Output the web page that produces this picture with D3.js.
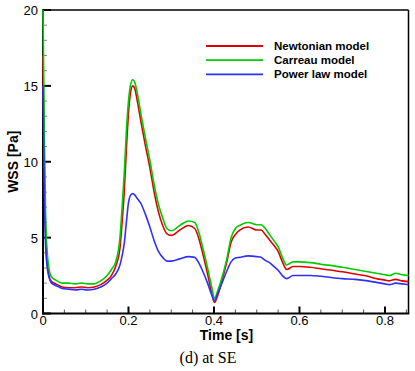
<!DOCTYPE html>
<html>
<head>
<meta charset="utf-8">
<script src="https://cdn.jsdelivr.net/npm/d3@7"></script>
<style>
  body { margin: 0; background: #fff; }
  svg { display: block; }
  .tick-label { font-family: "Liberation Sans", Arial, sans-serif; font-size: 13px; fill: #000; }
  .axis-title { font-family: "Liberation Sans", Arial, sans-serif; font-size: 14px; font-weight: bold; fill: #000; }
  .legend-text { font-family: "Liberation Sans", Arial, sans-serif; font-size: 11.5px; font-weight: bold; fill: #000; }
  .caption { font-family: "Liberation Serif", "Times New Roman", serif; font-size: 16px; fill: #000; }
</style>
</head>
<body>
<div id="chart"></div>
<script>
// time samples [s]
const time = [0, 0.003, 0.006, 0.01, 0.015, 0.02, 0.03, 0.045, 0.06, 0.075, 0.09, 0.105, 0.12, 0.135, 0.15, 0.16, 0.17,
    0.18, 0.185, 0.19, 0.195, 0.2, 0.205, 0.21, 0.215, 0.22, 0.23, 0.24, 0.25, 0.26, 0.27, 0.28, 0.29, 0.3, 0.32, 0.34,
    0.355, 0.365, 0.375, 0.385, 0.395, 0.401, 0.41, 0.42, 0.43, 0.44, 0.45, 0.46, 0.48, 0.5, 0.51, 0.52, 0.53, 0.54,
    0.55, 0.56, 0.57, 0.585, 0.6, 0.625, 0.65, 0.7, 0.73, 0.76, 0.78, 0.8, 0.81, 0.825, 0.84, 0.855];

const newtonian = [17, 10, 5.5, 3.5, 2.4, 2.1, 1.95, 1.75, 1.7, 1.7, 1.75, 1.7, 1.75, 1.9, 2.2, 2.5, 3.1,
    4.3, 6.0, 8.0, 10.8, 13.2, 14.6, 15.0, 14.8, 14.1, 12.5, 11.0, 9.6, 8.0, 6.7, 5.8, 5.25, 5.15, 5.5, 5.8,
    5.6, 4.9, 3.8, 2.6, 1.3, 0.72, 1.3, 2.3, 3.4, 4.7, 5.2, 5.5, 5.7, 5.5, 5.5, 5.2, 4.85, 4.5,
    4.1, 3.4, 2.9, 3.1, 3.1, 3.05, 2.95, 2.75, 2.6, 2.45, 2.3, 2.2, 2.15, 2.25, 2.15, 2.1];

const carreau = [20, 12, 6.5, 4.0, 2.8, 2.4, 2.2, 2.0, 2.0, 1.95, 2.0, 1.95, 1.95, 2.15, 2.5, 2.9, 3.4,
    5.0, 7.0, 9.2, 12.0, 14.0, 15.1, 15.4, 15.2, 14.6, 13.0, 11.5, 10.1, 8.5, 7.2, 6.3, 5.6, 5.45, 5.8, 6.1,
    6.0, 5.3, 4.2, 3.0, 1.7, 1.0, 1.6, 2.5, 3.6, 5.0, 5.6, 5.8, 6.0, 5.85, 5.85, 5.6, 5.2, 4.8,
    4.4, 3.7, 3.2, 3.4, 3.4, 3.35, 3.25, 3.05, 2.9, 2.75, 2.65, 2.55, 2.5, 2.65, 2.55, 2.5];

const powerLaw = [15, 8, 4.5, 3.0, 2.3, 2.0, 1.85, 1.65, 1.6, 1.55, 1.6, 1.55, 1.6, 1.75, 2.0, 2.3, 2.6,
    3.2, 3.8, 4.6, 6.0, 7.3, 7.8, 7.9, 7.8, 7.6, 7.2, 6.5, 5.7, 4.8, 4.1, 3.7, 3.45, 3.45, 3.6, 3.75,
    3.7, 3.3, 2.7, 2.0, 1.2, 0.85, 1.4, 2.1, 2.8, 3.4, 3.65, 3.7, 3.8, 3.75, 3.7, 3.5, 3.35, 3.1,
    2.85, 2.5, 2.3, 2.5, 2.5, 2.5, 2.45, 2.3, 2.25, 2.15, 2.05, 1.95, 1.9, 2.0, 1.95, 1.9];

const seriesNames = ["Newtonian model", "Carreau model", "Power law model"];
const seriesColors = ["#e00000", "#00cc00", "#2f2fff"];
const seriesValues = [newtonian, carreau, powerLaw];

const xTicks = [0, 0.2, 0.4, 0.6, 0.8];
const yTicks = [0, 5, 10, 15, 20];

const W = 415, H = 371;
const margin = { top: 10, right: 6.5, bottom: 57.5, left: 43 };
const width = W - margin.left - margin.right,
    height = H - margin.top - margin.bottom;

const svg = d3.select("#chart").append("svg")
    .attr("width", W)
    .attr("height", H);

const x = d3.scaleLinear().domain([0, 0.855]).range([margin.left, margin.left + width]);
const y = d3.scaleLinear().domain([0, 20]).range([margin.top + height, margin.top]);

// frame (top/right thinner)
svg.append("line")
    .attr("x1", x(0)).attr("x2", x(0.855))
    .attr("y1", y(20)).attr("y2", y(20))
    .attr("stroke", "#000").attr("stroke-width", 1.5);
svg.append("line")
    .attr("x1", x(0.855)).attr("x2", x(0.855))
    .attr("y1", y(20)).attr("y2", y(0))
    .attr("stroke", "#000").attr("stroke-width", 1.5);

// minor ticks
const yMinor = d3.range(0, 21, 1).filter(d => d % 5 !== 0);
svg.selectAll(".ymin").data(yMinor).enter().append("line")
    .attr("x1", x(0)).attr("x2", x(0) + 4)
    .attr("y1", d => y(d)).attr("y2", d => y(d))
    .attr("stroke", "#888").attr("stroke-width", 1);
const xMinor = d3.range(0.05, 0.855, 0.05).filter(d => Math.abs(d * 5 - Math.round(d * 5)) > 1e-6);
svg.selectAll(".xmin").data(xMinor).enter().append("line")
    .attr("x1", d => x(d)).attr("x2", d => x(d))
    .attr("y1", y(0)).attr("y2", y(0) - 4)
    .attr("stroke", "#555").attr("stroke-width", 1);

// major ticks
svg.selectAll(".ymaj").data(yTicks).enter().append("line")
    .attr("x1", x(0)).attr("x2", x(0) + 8)
    .attr("y1", d => y(d)).attr("y2", d => y(d))
    .attr("stroke", "#000").attr("stroke-width", 2);
svg.selectAll(".xmaj").data(xTicks).enter().append("line")
    .attr("x1", d => x(d)).attr("x2", d => x(d))
    .attr("y1", y(0)).attr("y2", y(0) - 7)
    .attr("stroke", "#000").attr("stroke-width", 2);

// left and bottom axis lines
svg.append("line")
    .attr("x1", x(0)).attr("x2", x(0))
    .attr("y1", y(20) - 0.75).attr("y2", y(0) + 1)
    .attr("stroke", "#000").attr("stroke-width", 2);
svg.append("line")
    .attr("x1", x(0) - 1).attr("x2", x(0.855) + 0.75)
    .attr("y1", y(0)).attr("y2", y(0))
    .attr("stroke", "#000").attr("stroke-width", 2);

// tick labels
svg.selectAll(".ylab").data(yTicks).enter().append("text")
    .attr("class", "tick-label")
    .attr("x", x(0) - 5)
    .attr("y", d => y(d) + 5)
    .attr("text-anchor", "end")
    .text(d => d);
svg.selectAll(".xlab").data(xTicks).enter().append("text")
    .attr("class", "tick-label")
    .attr("x", d => x(d))
    .attr("y", y(0) + 11.5)
    .attr("text-anchor", "middle")
    .text(d => d);

// axis titles
svg.append("text")
    .attr("class", "axis-title")
    .attr("transform", `translate(18, ${y(10)}) rotate(-90)`)
    .attr("text-anchor", "middle")
    .text("WSS [Pa]");
svg.append("text")
    .attr("class", "axis-title")
    .attr("x", 226.5)
    .attr("y", 340)
    .attr("text-anchor", "middle")
    .text("Time [s]");
svg.append("text")
    .attr("class", "caption")
    .attr("x", 208)
    .attr("y", 363)
    .attr("text-anchor", "middle")
    .text("(d) at SE");

// curves
const line = d3.line()
    .x((d, i) => x(time[i]))
    .y(d => y(d))
    .curve(d3.curveMonotoneX);

seriesValues.forEach(function (vals, k) {
    svg.append("path")
        .datum(vals)
        .attr("fill", "none")
        .attr("stroke", seriesColors[k])
        .attr("stroke-width", 1.6)
        .attr("stroke-linejoin", "round")
        .attr("d", line);
});

// legend
const legend = svg.append("g").attr("transform", "translate(206, 46)");
seriesNames.forEach(function (name, k) {
    const g = legend.append("g").attr("transform", `translate(0, ${k * 14.2})`);
    g.append("line")
        .attr("x1", 0).attr("x2", 57)
        .attr("y1", 0).attr("y2", 0)
        .attr("stroke", seriesColors[k]).attr("stroke-width", 1.8);
    g.append("text")
        .attr("class", "legend-text")
        .attr("x", 68)
        .attr("y", 4)
        .text(name);
});
</script>
</body>
</html>
